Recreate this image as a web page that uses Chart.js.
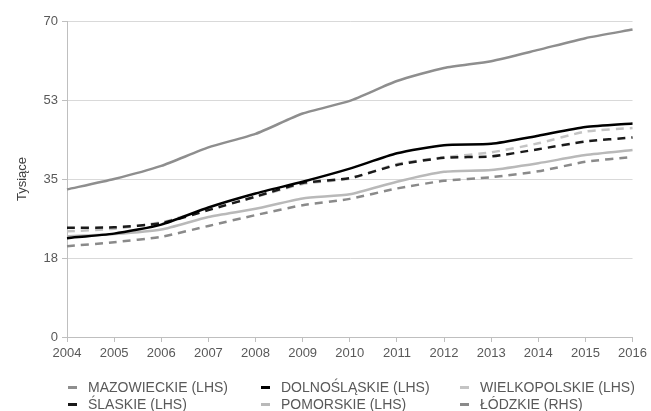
<!DOCTYPE html>
<html>
<head>
<meta charset="utf-8">
<script src="https://cdn.jsdelivr.net/npm/chart.js@4"></script>
<style>
  html, body { margin: 0; padding: 0; background: #fff; }
  #wrap { position: relative; width: 651px; height: 411px; }
  #legend { position: absolute; left: 0; top: 379px; width: 651px; font: 14px "Liberation Sans", Arial, sans-serif; color: #595959; }
  .item { position: absolute; height: 17px; line-height: 17px; white-space: nowrap; }
  .mark { position: absolute; top: 7px; width: 9px; height: 3px; }
  .txt { position: absolute; left: 20px; top: 0; }
</style>
</head>
<body>
<div id="wrap">
  <canvas id="chart" width="651" height="411"></canvas>
  <div id="legend"></div>
</div>
<script>
const years = ['2004', '2005', '2006', '2007', '2008', '2009', '2010', '2011', '2012', '2013', '2014', '2015', '2016'];

const mazowieckie = [32.7, 35.0, 37.9, 42.0, 45.0, 49.5, 52.3, 56.7, 59.6, 61.1, 63.6, 66.2, 68.1];
const dolnoslaskie = [21.9, 22.9, 24.9, 28.7, 31.8, 34.4, 37.3, 40.7, 42.5, 42.8, 44.6, 46.5, 47.3];
const wielkopolskie = [23.4, 24.0, 25.4, 28.3, 31.0, 33.9, 35.1, 38.3, 39.8, 40.9, 42.9, 45.5, 46.3];
const slaskie = [24.2, 24.3, 25.2, 28.1, 31.1, 34.1, 35.2, 38.1, 39.7, 40.0, 41.6, 43.3, 44.2];
const pomorskie = [22.3, 22.8, 23.8, 26.6, 28.4, 30.7, 31.6, 34.4, 36.6, 37.0, 38.5, 40.3, 41.4];
const lodzkie = [20.1, 21.0, 22.2, 24.6, 27.0, 29.2, 30.6, 32.9, 34.6, 35.4, 36.7, 38.8, 39.9];

const yTicks = [0, 17.5, 35, 52.5, 70];

const seriesNames = ['MAZOWIECKIE (LHS)', 'DOLNOŚLĄSKIE (LHS)', 'WIELKOPOLSKIE (LHS)',
                     'ŚLASKIE (LHS)', 'POMORSKIE (LHS)', 'ŁÓDZKIE (RHS)'];

const font = { family: '"Liberation Sans", Arial, sans-serif', size: 13 };
const tickColor = '#595959';

function line(label, data, color, dashed, order) {
    return {
        label: label,
        data: data,
        borderColor: color,
        backgroundColor: color,
        borderWidth: 2.5,
        borderDash: dashed ? [8, 6] : [],
        pointRadius: 0,
        tension: 0.2,
        fill: false,
        order: order
    };
}

const chartData = {
    labels: years,
    datasets: [
        line(seriesNames[0], mazowieckie, '#8e8e8e', false, 0),
        line(seriesNames[1], dolnoslaskie, '#000000', false, 0),
        line(seriesNames[2], wielkopolskie, '#c4c4c4', true, 3),
        line(seriesNames[3], slaskie, '#1a1a1a', true, 1),
        line(seriesNames[4], pomorskie, '#b9b9b9', false, 2),
        line(seriesNames[5], lodzkie, '#8a8a8a', true, 2)
    ]
};

const chart = new Chart(document.getElementById('chart'), {
    type: 'line',
    data: chartData,
    options: {
        responsive: false,
        animation: false,
        layout: { padding: { top: 21, right: 14, bottom: 44, left: 0 } },
        plugins: {
            legend: { display: false },
            tooltip: { enabled: false }
        },
        scales: {
            x: {
                offset: false,
                grid: { display: true, drawOnChartArea: false, drawTicks: true, tickLength: 5, color: '#bfbfbf' },
                border: { color: '#bfbfbf' },
                ticks: { color: tickColor, font: font, padding: 4, maxRotation: 0, autoSkip: false },
                afterFit: function (scale) { scale.height = 30; }
            },
            y: {
                min: 0,
                max: 70,
                afterBuildTicks: function (scale) {
                    scale.ticks = yTicks.map(v => ({ value: v }));
                },
                grid: { color: '#d9d9d9', tickLength: 5, tickColor: '#bfbfbf' },
                border: { color: '#bfbfbf' },
                ticks: {
                    color: tickColor,
                    font: font,
                    padding: 4,
                    callback: v => Math.round(v)
                },
                title: {
                    display: true,
                    text: 'Tysiące',
                    color: '#404040',
                    font: font,
                    padding: { top: 15, bottom: 0 }
                },
                afterFit: function (scale) { scale.width = 67; }
            }
        }
    }
});

// legend laid out as a 3 x 2 grid, like the original
const legendCols = [68, 261, 460];
const legendRows = [0, 17];
const legendEl = document.getElementById('legend');
chart.data.datasets.forEach((ds, i) => {
    const item = document.createElement('div');
    item.className = 'item';
    item.style.left = legendCols[i % 3] + 'px';
    item.style.top = legendRows[Math.floor(i / 3)] + 'px';
    const mark = document.createElement('span');
    mark.className = 'mark';
    mark.style.background = ds.borderColor;
    const txt = document.createElement('span');
    txt.className = 'txt';
    txt.textContent = ds.label;
    item.appendChild(mark);
    item.appendChild(txt);
    legendEl.appendChild(item);
});
</script>
</body>
</html>
